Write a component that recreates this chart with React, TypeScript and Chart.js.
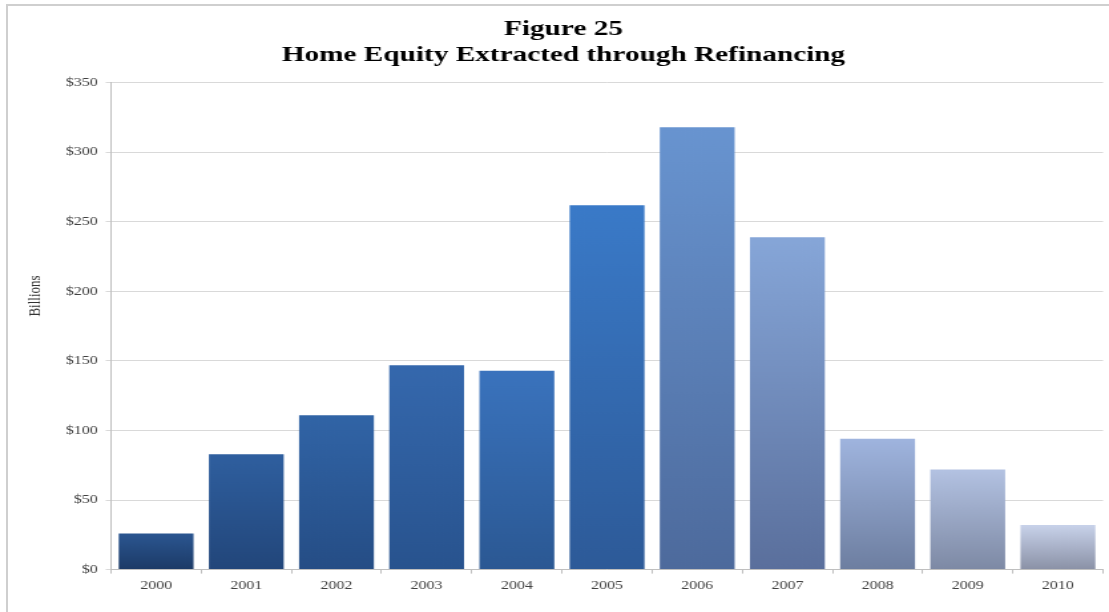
import React, { useEffect, useRef } from "react";
import { Chart, registerables } from "chart.js";

Chart.register(...registerables);

// ---- data ----
const categories = ["2000", "2001", "2002", "2003", "2004", "2005", "2006", "2007", "2008", "2009", "2010"];
const equityExtracted = [26, 83, 111, 147, 143, 262, 318, 239, 94, 72, 32];
const yTickLabels = ["$0", "$50", "$100", "$150", "$200", "$250", "$300", "$350"];
const titleLines = ["Figure 25", "Home Equity Extracted through Refinancing"];
const yAxisTitle = "Billions";

// ---- styles ----
const barTopColors = [
  "#2b5691", "#2f5f9f", "#3164a6", "#3568ad", "#3a73bd", "#3a7ac8",
  "#6894d0", "#86a6d8", "#9fb4de", "#b3c2e2", "#c8d2ea",
];
const barBottomColors = [
  "#1c3a66", "#22467a", "#254d85", "#28538e", "#2b5893", "#2d5a98",
  "#4d6a9c", "#5a6f9c", "#6d7ea0", "#7d89a4", "#8a91a6",
];

const OUT_W = 1109;
const OUT_H = 612;
const INNER_W = 834;
const SX = OUT_W / INNER_W;
const SERIF = '"Liberation Serif", "Times New Roman", Times, serif';

const yTitlePlugin = {
  id: "yTitleLabel",
  afterDraw(chart: any) {
    const { ctx } = chart;
    ctx.save();
    ctx.translate(26.5, 296);
    ctx.rotate(-Math.PI / 2);
    ctx.font = `13px ${SERIF}`;
    ctx.fillStyle = "#333333";
    ctx.textAlign = "center";
    ctx.textBaseline = "middle";
    ctx.fillText(yAxisTitle, 0, 0);
    ctx.restore();
  },
};

export default function App() {
  const canvasRef = useRef<HTMLCanvasElement | null>(null);

  useEffect(() => {
    if (!canvasRef.current) return;
    const chart = new Chart(canvasRef.current, {
      type: "bar",
      data: {
        labels: categories,
        datasets: [
          {
            label: "Home Equity Extracted",
            data: equityExtracted,
            borderWidth: 0,
            categoryPercentage: 1,
            barPercentage: 0.83,
            backgroundColor: (c: any) => {
              const ch = c.chart;
              const { ctx, chartArea, scales } = ch;
              const i = c.dataIndex;
              if (!chartArea || i == null || !scales.y) return barBottomColors[0];
              const v = equityExtracted[i];
              const yTop = scales.y.getPixelForValue(v);
              const yBot = scales.y.getPixelForValue(0);
              const g = ctx.createLinearGradient(0, yTop, 0, yBot);
              g.addColorStop(0, barTopColors[i]);
              g.addColorStop(1, barBottomColors[i]);
              return g;
            },
          },
        ],
      },
      options: {
        animation: false,
        responsive: true,
        maintainAspectRatio: false,
        layout: { padding: { left: 18, right: 4.5, top: 0, bottom: 14 } },
        plugins: {
          legend: { display: false },
          tooltip: { enabled: false },
          title: {
            display: true,
            text: titleLines,
            color: "#000000",
            font: { family: SERIF, size: 22, weight: "bold", lineHeight: 1.2 },
            padding: { top: 16, bottom: 14 },
          },
        },
        scales: {
          x: {
            grid: {
              display: true,
              drawOnChartArea: false,
              drawTicks: true,
              tickLength: 4,
              color: "#bfbfbf",
            },
            border: { display: true, color: "#bfbfbf" },
            ticks: {
              color: "#404040",
              font: { family: SERIF, size: 12 },
              padding: 5,
              maxRotation: 0,
            },
          },
          y: {
            min: 0,
            max: 350,
            afterFit: (scale: any) => {
              scale.width = 65.5;
            },
            grid: {
              color: "#d9d9d9",
              drawTicks: true,
              tickLength: 4,
            },
            border: { display: true, color: "#bfbfbf" },
            ticks: {
              stepSize: 50,
              color: "#404040",
              font: { family: SERIF, size: 12 },
              padding: 6,
              callback: (_v: any, index: number) => yTickLabels[index],
            },
          },
        },
      },
      plugins: [yTitlePlugin],
    });
    return () => chart.destroy();
  }, []);

  return (
    <div style={{ position: "fixed", left: 0, top: 0, width: OUT_W, height: OUT_H, background: "#ffffff", overflow: "hidden" }}>
      <div
        style={{
          position: "absolute",
          left: 6,
          top: 4,
          width: OUT_W + 20,
          height: OUT_H + 20,
          borderTop: "2px solid #cfcfcf",
          borderLeft: "2px solid #cfcfcf",
          boxSizing: "border-box",
        }}
      />
      <div
        style={{
          position: "absolute",
          left: 0,
          top: 0,
          width: INNER_W,
          height: OUT_H,
          transform: `scaleX(${SX})`,
          transformOrigin: "0 0",
        }}
      >
        <canvas ref={canvasRef} />
      </div>
    </div>
  );
}
